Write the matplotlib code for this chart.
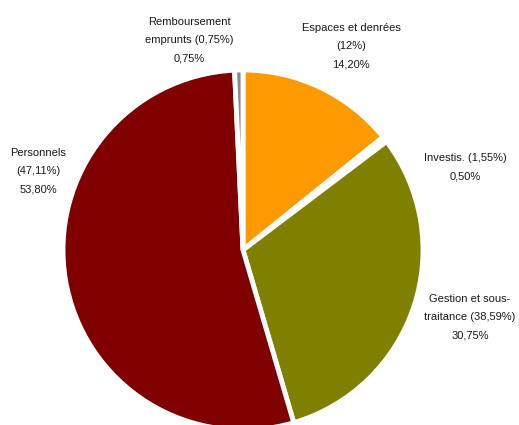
import matplotlib.pyplot as plt

# Données
postes = ["Espaces et denrées", "Investis.", "Gestion et sous-traitance",
          "Personnels", "Remboursement emprunts"]
parts = [14.20, 0.50, 30.75, 53.80, 0.75]
libelles = ["Espaces et denrées\n(12%)\n14,20%",
            "Investis. (1,55%)\n0,50%",
            "Gestion et sous-\ntraitance (38,59%)\n30,75%",
            "Personnels\n(47,11%)\n53,80%",
            "Remboursement\nemprunts (0,75%)\n0,75%"]
couleurs = ["#FF9900", "#FFFFFF", "#808000", "#800000", "#888888"]

plt.rcParams['font.family'] = ['Liberation Sans', 'DejaVu Sans']

fig = plt.figure(figsize=(5.19, 4.25), dpi=100)
ax = fig.add_axes([0, 0, 1, 1])

ax.pie(parts, colors=couleurs, startangle=90, counterclock=False,
       center=(243, 175), radius=180,
       wedgeprops=dict(edgecolor="white", linewidth=3.5))

ax.set_xlim(0, 519)
ax.set_ylim(0, 425)
ax.set_aspect("equal")
ax.axis("off")

# positions des étiquettes (pixels, centre du bloc de texte)
pos = [(351, 425 - 46), (465, 425 - 167), (470, 425 - 317),
       (38, 425 - 171), (189, 425 - 40)]
for txt, (x, y) in zip(libelles, pos):
    ax.text(x, y, txt, ha="center", va="center", fontsize=8,
            linespacing=2.05, color="#1a1a1a")

fig.savefig("out.png", dpi=100)
